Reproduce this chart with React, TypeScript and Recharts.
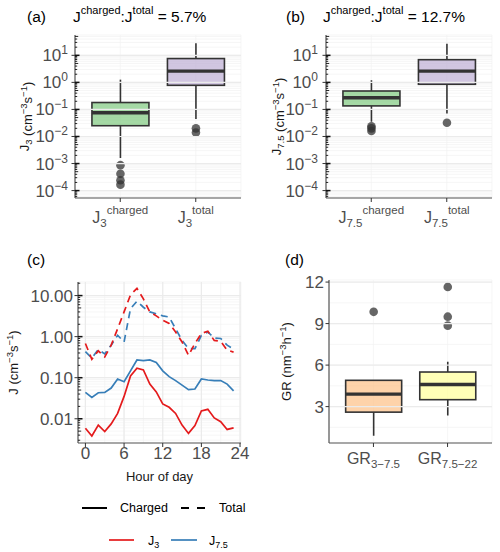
import React from "react";
import {
  ComposedChart,
  LineChart,
  Bar,
  Line,
  XAxis,
  YAxis,
  CartesianGrid,
  ReferenceLine,
} from "recharts";

const FONT = "'Liberation Sans', Arial, Helvetica, sans-serif";
const TICK_GREY = "#4D4D4D";
const TITLE_INK = "#1A1A1A";
const GRID_MAJOR = "#EBEBEB";
const GRID_MINOR = "#F2F2F2";
const BORDER = "#555555";
const RED = "#E41A1C";
const BLUE = "#377EB8";

// (a) J3 box plots (cm^-3 s^-1)
const j3Groups = ["charged", "total"];
const j3Low = [0.0016, 0.044];
const j3Q1 = [0.025, 0.78];
const j3Median = [0.075, 2.6];
const j3Q3 = [0.18, 7.6];
const j3High = [1.26, 28];
const j3Outliers = [[0.00087, 0.00042, 0.00024, 0.000166], [0.02, 0.014]];

// (b) J7.5 box plots
const j75Groups = ["charged", "total"];
const j75Low = [0.035, 0.07];
const j75Q1 = [0.135, 0.85];
const j75Median = [0.27, 2.6];
const j75Q3 = [0.48, 6.9];
const j75High = [1.2, 27];
const j75Outliers = [[0.024, 0.02, 0.016], [0.032]];

// (c) diurnal cycle, hour of day
const hours = [0, 1, 2, 3, 4, 5, 6, 7, 8, 9, 10, 11, 12, 13, 14, 15, 16, 17, 18, 19, 20, 21, 22, 23];
const j3Charged = [0.0059, 0.0038, 0.007, 0.0049, 0.0075, 0.0135, 0.035, 0.11, 0.17, 0.155, 0.07, 0.045, 0.023, 0.019, 0.0135, 0.007, 0.0044, 0.0068, 0.0155, 0.017, 0.0105, 0.0085, 0.0055, 0.006];
const j75Charged = [0.044, 0.033, 0.043, 0.044, 0.056, 0.093, 0.08, 0.147, 0.27, 0.26, 0.27, 0.235, 0.147, 0.106, 0.085, 0.066, 0.051, 0.053, 0.093, 0.088, 0.085, 0.085, 0.07, 0.048];
const j3Total = [0.68, 0.28, 0.45, 0.32, 0.62, 1.56, 4, 10.4, 15, 8.3, 4, 3.2, 2.5, 2.1, 1.3, 0.74, 0.35, 0.68, 1.2, 1.35, 0.81, 0.77, 0.47, 0.42];
const j75Total = [0.43, 0.3, 0.49, 0.38, 0.62, 1.08, 0.74, 4.8, 7.3, 5.2, 4, 3.6, 3.2, 3.0, 1.56, 0.81, 0.51, 0.51, 1.07, 1.3, 0.93, 0.9, 0.62, 0.5];

// (d) growth rates (nm h^-1)
const grGroups = ["3−7.5", "7.5−22"];
const grLow = [0.9, 2.35];
const grQ1 = [2.6, 3.5];
const grMedian = [3.9, 4.6];
const grQ3 = [4.9, 5.5];
const grHigh = [4.9, 6.25];
const grOutliers = [[9.85], [11.65, 9.5, 8.85]];

// ticks
const boxLogMajors = [1e-4, 1e-3, 1e-2, 1e-1, 1, 10];
const diurnalMajors = [0.01, 0.1, 1, 10];
const hourMajors = [0, 6, 12, 18, 24];
const hourGrid = [0, 3, 6, 9, 12, 15, 18, 21, 24];
const grMajors = [3, 6, 9, 12];
const grGrid = [1.5, 3, 4.5, 6, 7.5, 9, 10.5, 12];

const boxLogDomain = [5.32e-5, 56.4];
const diurnalDomain = [0.00257, 21.4];
const grDomain = [0.37, 12.15];

const fillsJ = ["#7FC97F", "#BEAED4"];
const fillsGR = ["#FDC086", "#FFFF99"];

const withMinors = (majors: number[], lo: number, hi: number) => {
  const out: number[] = [];
  [majors[0] / 10, ...majors].forEach((p) => {
    for (let m = 1; m <= 9; m++) {
      const v = +(p * m).toPrecision(6);
      if (v >= lo && v <= hi) out.push(v);
    }
  });
  return Array.from(new Set(out)).sort((a, b) => a - b);
};

const boxRows = (
  groups: string[],
  low: number[],
  q1: number[],
  med: number[],
  q3: number[],
  high: number[],
  outl: number[][]
) =>
  groups.map((g, i) => ({
    group: g,
    idx: i,
    low: low[i],
    q1: q1[i],
    median: med[i],
    q3: q3[i],
    high: high[i],
    outliers: outl[i],
  }));

const j3Rows = boxRows(j3Groups, j3Low, j3Q1, j3Median, j3Q3, j3High, j3Outliers);
const j75Rows = boxRows(j75Groups, j75Low, j75Q1, j75Median, j75Q3, j75High, j75Outliers);
const grRows = boxRows(grGroups, grLow, grQ1, grMedian, grQ3, grHigh, grOutliers);

const diurnalRows = hours.map((h, i) => ({
  hour: h,
  j3Charged: j3Charged[i],
  j75Charged: j75Charged[i],
  j3Total: j3Total[i],
  j75Total: j75Total[i],
}));

// box drawn from the bar the library placed for [q1, q3]
const boxShape = (log: boolean, fills: string[]) => (props: any) => {
  const { x, y, width, height, payload } = props;
  const t = (v: number) => (log ? Math.log10(v) : v);
  const k = height / (t(payload.q3) - t(payload.q1));
  const py = (v: number) => y + (t(payload.q3) - t(v)) * k;
  const cx = x + width / 2;
  const med = py(payload.median);
  return (
    <g>
      <line x1={cx} x2={cx} y1={py(payload.high)} y2={y} stroke="#333" strokeWidth={1.6} />
      <line x1={cx} x2={cx} y1={y + height} y2={py(payload.low)} stroke="#333" strokeWidth={1.6} />
      <rect x={x} y={y} width={width} height={height} fill={fills[payload.idx]} fillOpacity={0.7} stroke="#333" strokeWidth={1.6} />
      <line x1={x} x2={x + width} y1={med} y2={med} stroke="#333" strokeWidth={3.4} />
      {payload.outliers.map((o: number, i: number) => (
        <circle key={i} cx={cx} cy={py(o)} r={4.3} fill="#333" fillOpacity={0.75} />
      ))}
    </g>
  );
};

const pow10Label = (v: number, x: number, y: number, fs: number) => {
  const e = Math.round(Math.log10(v));
  return (
    <text x={x} y={y} dy={6} textAnchor="end" fontFamily={FONT} fontSize={fs} fill={TICK_GREY}>
      10
      <tspan dy={-7} fontSize={12}>{e < 0 ? `−${-e}` : `${e}`}</tspan>
    </text>
  );
};

const fixedLabel = (v: number, x: number, y: number, fs: number) => (
  <text x={x} y={y} dy={6} textAnchor="end" fontFamily={FONT} fontSize={fs} fill={TICK_GREY}>
    {v.toFixed(2)}
  </text>
);

const plainLabel = (v: number, x: number, y: number, fs: number) => (
  <text x={x} y={y} dy={6} textAnchor="end" fontFamily={FONT} fontSize={fs} fill={TICK_GREY}>
    {v}
  </text>
);

const YTick = (props: any) => {
  const { x, y, payload, majors, logticks, format, gap = 7, fontSize = 17 } = props;
  const v = payload.value;
  const plotLeft = x + 7; // tickSize + tickMargin
  const isMajor = majors.some((m: number) => Math.abs(m - v) / m < 1e-6);
  let len = 0;
  if (logticks) {
    const mant = Math.round(v / Math.pow(10, Math.floor(Math.log10(v) + 1e-9)));
    len = isMajor ? 4.5 : mant === 5 ? 3.2 : 2.2;
  }
  return (
    <g>
      {logticks && (
        <line x1={plotLeft} x2={plotLeft + len} y1={y} y2={y} stroke="#111" strokeWidth={isMajor ? 1.5 : 0.9} />
      )}
      {isMajor && <line x1={plotLeft - 3.5} x2={plotLeft} y1={y} y2={y} stroke="#333" strokeWidth={1} />}
      {isMajor && format(v, plotLeft - gap, y, fontSize)}
    </g>
  );
};

const CatTick = (props: any) => {
  const { x, y, payload, base, sub, sups, dyBase = 19 } = props;
  const sup = sups ? sups[payload.value] : null;
  return (
    <text x={x} y={y + dyBase} textAnchor="middle" fontFamily={FONT} fontSize={16} fill={TICK_GREY}>
      {base}
      <tspan fontSize={11.5} dy={4}>{sub ?? payload.value}</tspan>
      {sup && (
        <tspan fontSize={11.5} dy={-13}>
          {sup}
        </tspan>
      )}
    </text>
  );
};

const HourTick = (props: any) => {
  const { x, y, payload, majors } = props;
  if (!majors.includes(payload.value)) return <g />;
  return (
    <g>
      <line x1={x} x2={x} y1={y - 6} y2={y - 2} stroke="#333" strokeWidth={1} />
      <text x={x} y={y + 10} textAnchor="middle" fontFamily={FONT} fontSize={17} fill={TICK_GREY}>
        {payload.value}
      </text>
    </g>
  );
};

const YTitle = (props: any) => {
  const { viewBox, baseX, children } = props;
  const cy = viewBox ? viewBox.y + viewBox.height / 2 : 125;
  return (
    <text
      transform={`translate(${baseX},${cy}) rotate(-90)`}
      textAnchor="middle"
      fontFamily={FONT}
      fontSize={13}
      fill={TITLE_INK}
    >
      {children}
    </text>
  );
};

const XTitle = (props: any) => {
  const { viewBox, text } = props;
  return (
    <text
      x={viewBox.x + viewBox.width / 2}
      y={viewBox.y + 38}
      textAnchor="middle"
      fontFamily={FONT}
      fontSize={13}
      fill={TITLE_INK}
    >
      {text}
    </text>
  );
};

const unitTspans = (
  <>
    <tspan> (cm</tspan>
    <tspan fontSize={9.5} dy={-5}>−3</tspan>
    <tspan dy={5}>s</tspan>
    <tspan fontSize={9.5} dy={-5}>−1</tspan>
    <tspan dy={5}>)</tspan>
  </>
);

function BoxPanel(props: any) {
  const { rows, log, domain, ticks, majors, format, labelGap, fills, margin, yWidth, xHeight, catPad, xTick, yTitle } = props;
  return (
    <ComposedChart width={250} height={250} data={rows} margin={margin} barCategoryGap="12.5%">
      <CartesianGrid stroke={GRID_MINOR} strokeWidth={0.7} />
      {majors.map((m: number) => (
        <ReferenceLine key={m} y={m} stroke={GRID_MAJOR} strokeWidth={1.2} />
      ))}
      <XAxis
        dataKey="group"
        height={xHeight}
        padding={{ left: catPad, right: catPad }}
        interval={0}
        tickSize={4}
        tickMargin={2}
        tickLine={{ stroke: "#333" }}
        axisLine={{ stroke: BORDER, strokeWidth: 1.2 }}
        tick={xTick}
      />
      <XAxis xAxisId="frame" orientation="top" mirror height={0} tick={false} tickLine={false} axisLine={{ stroke: BORDER, strokeWidth: 1.2 }} />
      <YAxis
        type="number"
        scale={log ? "log" : "linear"}
        domain={domain}
        allowDataOverflow
        ticks={ticks}
        interval={0}
        width={yWidth}
        tickSize={4}
        tickMargin={3}
        tickLine={false}
        axisLine={{ stroke: BORDER, strokeWidth: 1.2 }}
        tick={<YTick majors={majors} logticks={log} format={format} gap={labelGap} />}
        label={yTitle}
      />
      <YAxis yAxisId="frame" orientation="right" mirror width={0} type="number" domain={[0, 1]} tick={false} tickLine={false} axisLine={{ stroke: BORDER, strokeWidth: 1.2 }} />
      <Bar dataKey={(d: any) => [d.q1, d.q3]} shape={boxShape(log, fills)} isAnimationActive={false} />
    </ComposedChart>
  );
}

export default function App() {
  const boxTicks = withMinors(boxLogMajors, boxLogDomain[0], boxLogDomain[1]);
  const diurnalTicks = withMinors(diurnalMajors, diurnalDomain[0], diurnalDomain[1]);
  return (
    <div style={{ position: "absolute", left: 0, top: 0, width: 500, height: 552, background: "#fff" }}>
      <div style={{ position: "absolute", left: 0, top: 0 }}>
        <BoxPanel
          rows={j3Rows}
          log
          domain={boxLogDomain}
          ticks={boxTicks}
          majors={boxLogMajors}
          format={pow10Label}
          labelGap={7}
          fills={fillsJ}
          margin={{ top: 35, right: 9, bottom: 0, left: 0 }}
          yWidth={75}
          xHeight={52}
          catPad={7.5}
          xTick={<CatTick base="J" sub="3" sups={{ charged: "charged", total: "total" }} />}
          yTitle={
            <YTitle baseX={29}>
              J<tspan fontSize={9.5} dy={3}>3</tspan>
              <tspan dy={-3}></tspan>
              {unitTspans}
            </YTitle>
          }
        />
      </div>
      <div style={{ position: "absolute", left: 250, top: 0 }}>
        <BoxPanel
          rows={j75Rows}
          log
          domain={boxLogDomain}
          ticks={boxTicks}
          majors={boxLogMajors}
          format={pow10Label}
          labelGap={8}
          fills={fillsJ}
          margin={{ top: 35, right: 8, bottom: 0, left: 0 }}
          yWidth={76}
          xHeight={52}
          catPad={7.5}
          xTick={<CatTick base="J" sub="7.5" sups={{ charged: "charged", total: "total" }} />}
          yTitle={
            <YTitle baseX={31}>
              J<tspan fontSize={9.5} dy={3}>7.5</tspan>
              <tspan dy={-3}></tspan>
              {unitTspans}
            </YTitle>
          }
        />
      </div>
      <div style={{ position: "absolute", left: 0, top: 250 }}>
        <LineChart width={250} height={250} data={diurnalRows} margin={{ top: 32, right: 9, bottom: 0, left: 0 }}>
          <CartesianGrid stroke={GRID_MINOR} strokeWidth={0.7} />
          {diurnalMajors.map((m) => (
            <ReferenceLine key={`y${m}`} y={m} stroke={GRID_MAJOR} strokeWidth={1.2} />
          ))}
          {hourMajors.map((h) => (
            <ReferenceLine key={`x${h}`} x={h} stroke={GRID_MAJOR} strokeWidth={1.2} />
          ))}
          <XAxis
            type="number"
            dataKey="hour"
            domain={[-1.15, 24.15]}
            allowDataOverflow
            ticks={hourGrid}
            interval={0}
            height={57}
            tickSize={4}
            tickMargin={2}
            tickLine={false}
            axisLine={{ stroke: BORDER, strokeWidth: 1.2 }}
            tick={<HourTick majors={hourMajors} />}
            label={<XTitle text="Hour of day" />}
          />
          <XAxis xAxisId="frame" orientation="top" mirror height={0} tick={false} tickLine={false} axisLine={{ stroke: BORDER, strokeWidth: 1.2 }} />
          <YAxis
            type="number"
            scale="log"
            domain={diurnalDomain}
            allowDataOverflow
            ticks={diurnalTicks}
            interval={0}
            width={78}
            tickSize={4}
            tickMargin={3}
            tickLine={false}
            axisLine={{ stroke: BORDER, strokeWidth: 1.2 }}
            tick={<YTick majors={diurnalMajors} logticks format={fixedLabel} gap={5} />}
            label={
              <YTitle baseX={18}>
                J{unitTspans}
              </YTitle>
            }
          />
          <YAxis yAxisId="frame" orientation="right" mirror width={0} type="number" domain={[0, 1]} tick={false} tickLine={false} axisLine={{ stroke: BORDER, strokeWidth: 1.2 }} />
          <Line dataKey="j75Total" stroke={BLUE} strokeWidth={1.7} strokeDasharray="7 5" dot={false} activeDot={false} isAnimationActive={false} />
          <Line dataKey="j3Total" stroke={RED} strokeWidth={1.7} strokeDasharray="7 5" dot={false} activeDot={false} isAnimationActive={false} />
          <Line dataKey="j75Charged" stroke={BLUE} strokeWidth={1.7} dot={false} activeDot={false} isAnimationActive={false} />
          <Line dataKey="j3Charged" stroke={RED} strokeWidth={1.7} dot={false} activeDot={false} isAnimationActive={false} />
        </LineChart>
      </div>
      <div style={{ position: "absolute", left: 250, top: 250 }}>
        <BoxPanel
          rows={grRows}
          log={false}
          domain={grDomain}
          ticks={grGrid}
          majors={grMajors}
          format={plainLabel}
          labelGap={5}
          fills={fillsGR}
          margin={{ top: 30, right: 8, bottom: 0, left: 0 }}
          yWidth={79}
          xHeight={57}
          catPad={7.4}
          xTick={<CatTick base="GR" dyBase={15} />}
          yTitle={
            <YTitle baseX={41}>
              GR (nm<tspan fontSize={9.5} dy={-5}>−3</tspan>
              <tspan dy={5}>h</tspan>
              <tspan fontSize={9.5} dy={-5}>−1</tspan>
              <tspan dy={5}>)</tspan>
            </YTitle>
          }
        />
      </div>
      <svg
        width={500}
        height={552}
        style={{ position: "absolute", left: 0, top: 0, pointerEvents: "none" }}
        fontFamily={FONT}
      >
        <text x={27} y={22} fontSize={15.5} fill="#000">(a)</text>
        <text x={73} y={22} fontSize={15.5} fill="#000">
          J<tspan fontSize={11} dy={-8}>charged</tspan>
          <tspan dy={8}>:J</tspan>
          <tspan fontSize={11} dy={-8}>total</tspan>
          <tspan dy={8}> = 5.7%</tspan>
        </text>
        <text x={286} y={22} fontSize={15.5} fill="#000">(b)</text>
        <text x={323} y={22} fontSize={15.5} fill="#000">
          J<tspan fontSize={11} dy={-8}>charged</tspan>
          <tspan dy={8}>:J</tspan>
          <tspan fontSize={11} dy={-8}>total</tspan>
          <tspan dy={8}> = 12.7%</tspan>
        </text>
        <text x={27} y={265} fontSize={15.5} fill="#000">(c)</text>
        <text x={285} y={265} fontSize={15.5} fill="#000">(d)</text>

        <line x1={82} x2={107} y1={508} y2={508} stroke="#000" strokeWidth={2} />
        <text x={120} y={512} fontSize={12.5} fill="#000">Charged</text>
        <line x1={181} x2={205} y1={508} y2={508} stroke="#000" strokeWidth={2} strokeDasharray="8 8" />
        <text x={219} y={512} fontSize={12.5} fill="#000">Total</text>

        <line x1={109} x2={134} y1={540} y2={540} stroke={RED} strokeWidth={1.7} />
        <text x={148} y={545} fontSize={12.5} fill="#000">
          J<tspan fontSize={9} dy={3}>3</tspan>
        </text>
        <line x1={171} x2={197} y1={540} y2={540} stroke={BLUE} strokeWidth={1.7} />
        <text x={209} y={545} fontSize={12.5} fill="#000">
          J<tspan fontSize={9} dy={3}>7.5</tspan>
        </text>
      </svg>
    </div>
  );
}
